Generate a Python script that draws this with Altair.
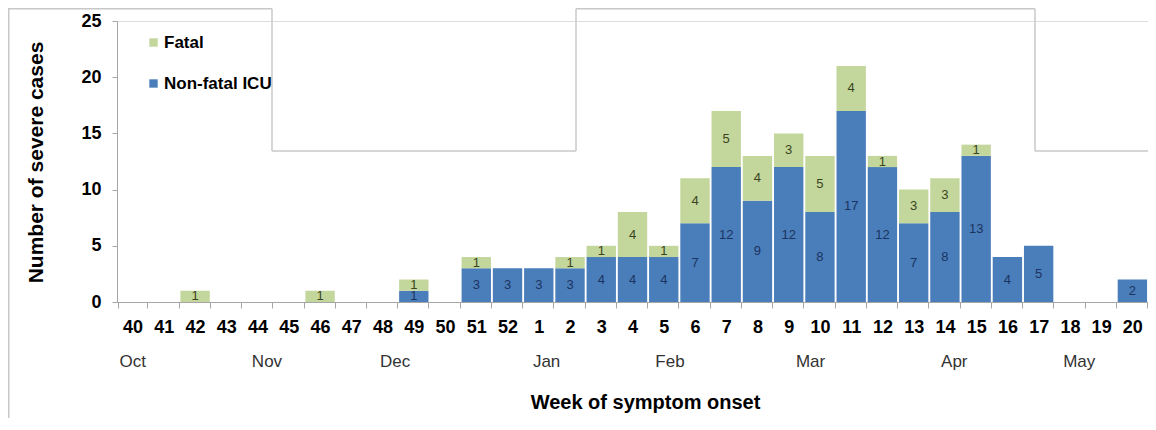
import altair as alt
import pandas as pd

# weekly counts
weeks = ['40', '41', '42', '43', '44', '45', '46', '47', '48', '49', '50', '51', '52',
         '1', '2', '3', '4', '5', '6', '7', '8', '9', '10', '11', '12', '13', '14',
         '15', '16', '17', '18', '19', '20']
non_fatal = [0, 0, 0, 0, 0, 0, 0, 0, 0, 1, 0, 3, 3,
             3, 3, 4, 4, 4, 7, 12, 9, 12, 8, 17, 12, 7, 8,
             13, 4, 5, 0, 0, 2]
fatal = [0, 0, 1, 0, 0, 0, 1, 0, 0, 1, 0, 1, 0,
         0, 1, 1, 4, 1, 4, 5, 4, 3, 5, 4, 1, 3, 3,
         1, 0, 0, 0, 0, 0]

months = ['Oct', 'Nov', 'Dec', 'Jan', 'Feb', 'Mar', 'Apr', 'May']
month_at = [0, 4.3, 8.4, 13.25, 17.2, 21.7, 26.3, 30.3]  # in week-index units

series = ['Fatal', 'Non-fatal ICU']
colors = ['#c3d69b', '#4a7ebb']

W, H = 1031, 281

rows = []
for i, w in enumerate(weeks):
    rows.append({'week': w, 'type': 'Non-fatal ICU', 'rank': 0, 'cases': non_fatal[i]})
    rows.append({'week': w, 'type': 'Fatal', 'rank': 1, 'cases': fatal[i]})
df = pd.DataFrame(rows)

month_df = pd.DataFrame({'month': months, 'pos': month_at})

# light grey frame that runs round the picture (pixels, relative to the plot origin)
frame_df = pd.DataFrame({
    'x':  [-108.25, -109, 155, 155, 459, 459, 918, 918],
    'x2': [-108.25, 155, 155, 459, 459, 918, 918, 1040],
    'y':  [-13, -12.25, -12.25, 130, 130, -12.25, -12.25, 130],
    'y2': [400, -12.25, 130, 130, -12.25, -12.25, 130, 130],
})

font = 'Liberation Sans'

base = alt.Chart(df).transform_stack(
    stack='cases', groupby=['week'], as_=['y0', 'y1'],
    sort=[alt.SortField('rank', order='ascending')]
).transform_calculate(mid='(datum.y0 + datum.y1) / 2')

x_enc = alt.X('week:N',
              scale=alt.Scale(domain=weeks, paddingInner=0.06, paddingOuter=0.03),
              axis=alt.Axis(title='Week of symptom onset', labelAngle=0, labelFontSize=18,
                            labelFontWeight='bold', labelColor='black', labelPadding=10,
                            tickBand='extent', tickSize=6, tickColor='#a6a6a6',
                            domainColor='#a6a6a6', grid=False,
                            titleFontSize=20, titleFontWeight='bold', titleColor='black',
                            titleX=528, titleY=100, titleAlign='center',
                            titleBaseline='middle'))

bars = base.mark_bar().encode(
    x=x_enc,
    y=alt.Y('y0:Q', scale=alt.Scale(domain=[0, 25], nice=False),
            axis=alt.Axis(title='Number of severe cases', values=[0, 5, 10, 15, 20, 25],
                          labelFontSize=18, labelFontWeight='bold', labelColor='black',
                          labelPadding=11, tickSize=5, tickColor='#a6a6a6',
                          domainColor='#a6a6a6', grid=False,
                          titleFontSize=21, titleFontWeight='bold', titleColor='black',
                          titleX=-81, titleY=141, titleAngle=270, titleAlign='center',
                          titleBaseline='middle')),
    y2='y1:Q',
    color=alt.Color('type:N', scale=alt.Scale(domain=series, range=colors),
                    legend=alt.Legend(title=None, orient='none', legendX=28, legendY=13,
                                      padding=0, symbolType='square', symbolSize=70,
                                      symbolStrokeWidth=0, labelFontSize=17,
                                      labelFontWeight='bold', labelColor='black',
                                      labelOffset=2, rowPadding=23)),
)

labels = base.transform_filter('datum.cases > 0').mark_text(
    fontSize=13, font=font, baseline='middle'
).encode(
    x=alt.X('week:N', scale=alt.Scale(domain=weeks, paddingInner=0.06, paddingOuter=0.03)),
    y='mid:Q',
    text='cases:Q',
    color=alt.condition("datum.type == 'Fatal'", alt.value('#3a4420'), alt.value('#1b3360')),
)

month_text = alt.Chart(month_df).mark_text(
    fontSize=17, font=font, color='#333333', baseline='middle'
).encode(
    x=alt.X('pos:Q', scale=alt.Scale(domain=[-0.5, len(weeks) - 0.5], nice=False, zero=False),
            axis=None),
    y=alt.value(H + 60),
    text='month:N',
)

frame = alt.Chart(frame_df).mark_rule(color='#c8c8c8', strokeWidth=1.5).encode(
    x=alt.X('x:Q', scale=None, axis=None),
    x2='x2:Q',
    y=alt.Y('y:Q', scale=None, axis=None),
    y2='y2:Q',
)

chart = alt.layer(
    frame, alt.layer(bars, labels), month_text
).resolve_scale(
    x='independent', y='independent'
).properties(
    width=W, height=H,
    padding={'left': 109, 'top': 13, 'right': 0, 'bottom': 116},
    autosize=alt.AutoSizeParams(type='none'),
).configure_view(
    stroke=None
).configure(
    font=font
)

chart.save('out.html', embed_options={'renderer': 'svg', 'actions': False})
